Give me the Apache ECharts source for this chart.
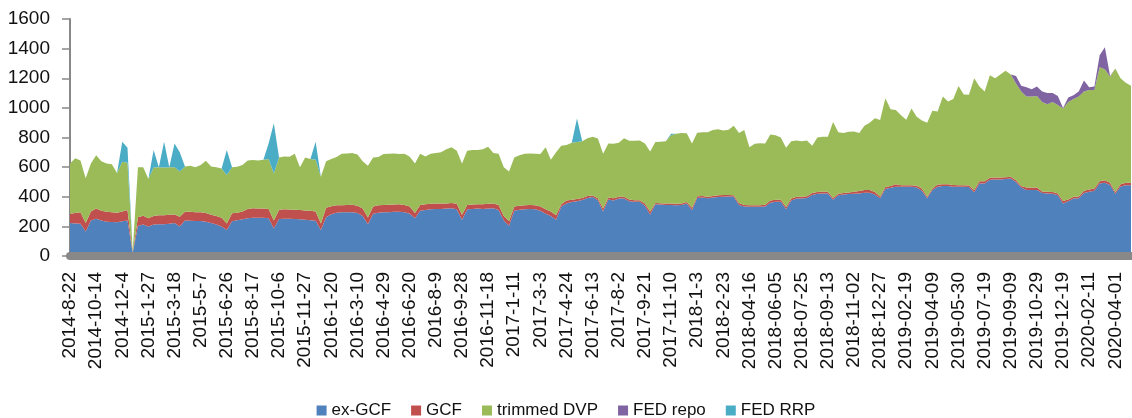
<!DOCTYPE html>
<html>
<head>
<meta charset="utf-8">
<script src="https://cdn.jsdelivr.net/npm/echarts@6.0.0/dist/echarts.min.js"></script>
<style>html,body{margin:0;padding:0;background:#fff}#c{width:1132px;height:418px}</style>
</head>
<body>
<div id="c"></div>
<script>
// Tick labels (one every 5 data points)
const tickLabels = ['2014-8-22','2014-10-14','2014-12-4','2015-1-27','2015-3-18','2015-5-7','2015-6-26','2015-8-17','2015-10-6','2015-11-27','2016-1-20','2016-3-10','2016-4-29','2016-6-20','2016-8-9','2016-9-28','2016-11-18','2017-1-11','2017-3-3','2017-4-24','2017-6-13','2017-8-2','2017-9-21','2017-11-10','2018-1-3','2018-2-23','2018-04-16','2018-06-05','2018-07-25','2018-09-13','2018-11-02','2018-12-27','2019-02-19','2019-04-09','2019-05-30','2019-07-19','2019-09-09','2019-10-29','2019-12-19','2020-02-11','2020-04-01'];
const pointsPerLabel = 5;

const seriesNames = ['ex-GCF','GCF','trimmed DVP','FED repo','FED RRP'];

const exGCF = [
223,220,218,165,240,252,240,232,230,228,
235,240,20,205,212,200,212,215,215,218,
222,200,240,238,237,236,232,222,212,200,
175,235,242,248,255,258,258,258,255,185,
250,252,252,250,248,245,242,238,175,262,
282,292,295,296,296,290,270,215,285,292,
295,296,298,298,295,285,255,305,310,315,
318,318,320,322,315,245,315,318,320,318,
320,322,310,240,205,305,312,315,318,315,
305,285,270,245,335,355,365,370,378,392,
398,377,300,381,375,388,388,370,366,366,
340,280,350,348,345,345,343,345,355,310,
392,395,390,395,398,400,402,400,345,335,
332,332,332,335,360,366,366,315,375,388,
388,392,412,420,422,422,380,410,415,418,
421,422,427,427,415,390,452,460,467,467,
467,467,462,440,390,445,468,472,472,467,
467,467,465,430,490,490,515,517,517,520,
524,500,462,445,445,445,425,422,420,410,
355,370,388,390,425,433,440,490,495,480,
420,470,478,478];

const gcf = [
63,70,77,57,60,68,65,66,65,64,
65,70,5,57,60,55,58,60,60,60,
58,65,58,60,59,60,58,56,58,58,
45,53,50,52,63,64,62,62,63,55,
62,63,62,62,62,63,63,62,45,63,
54,51,48,49,50,50,50,45,50,50,
50,50,50,52,50,50,35,40,40,37,
37,37,35,36,37,33,30,30,30,32,
32,33,35,30,30,30,28,27,27,27,
30,30,30,30,15,20,15,15,14,13,
10,13,20,14,15,12,12,12,11,11,
15,20,8,8,9,9,9,9,10,15,
12,10,10,10,12,12,10,10,13,10,
11,11,11,11,15,14,14,15,13,12,
12,11,13,12,13,11,12,10,10,10,
13,16,18,18,17,12,13,12,18,11,
11,11,12,15,10,11,14,13,13,13,
11,11,11,15,15,15,13,13,13,12,
11,12,10,18,18,18,10,11,12,12,
17,12,12,12,15,16,15,15,17,15,
12,15,16,16];

const trimmedDVP = [
339,370,350,303,325,360,335,327,325,268,
336,320,10,338,328,265,328,325,323,322,
320,305,307,312,304,319,353,327,330,332,
326,312,310,315,327,326,325,330,337,317,
353,357,356,378,290,357,350,350,315,315,
319,325,347,347,349,345,320,350,330,326,
343,344,344,338,345,335,335,345,322,338,
340,345,365,377,358,347,365,367,365,370,
386,340,345,330,335,330,340,348,347,348,
353,420,350,425,395,375,385,385,383,390,
397,404,370,365,368,365,395,396,401,403,
405,405,412,416,421,461,473,476,463,435,
428,430,435,445,445,436,440,470,472,505,
392,415,419,414,445,435,420,400,387,380,
375,377,320,368,370,372,513,415,405,410,
406,392,435,455,498,516,600,518,500,472,
442,517,466,460,500,524,493,591,558,580,
670,612,612,755,639,605,692,670,695,718,
690,653,638,613,613,617,605,592,608,598,
623,658,660,674,670,671,666,770,748,715,
833,715,676,656];

const fedRepo = [
0,0,0,0,0,0,0,0,0,0, 0,0,0,0,0,0,0,0,0,0,
0,0,0,0,0,0,0,0,0,0, 0,0,0,0,0,0,0,0,0,0,
0,0,0,0,0,0,0,0,0,0, 0,0,0,0,0,0,0,0,0,0,
0,0,0,0,0,0,0,0,0,0, 0,0,0,0,0,0,0,0,0,0,
0,0,0,0,0,0,0,0,0,0, 0,0,0,0,0,0,0,0,0,0,
0,0,0,0,0,0,0,0,0,0, 0,0,0,0,0,0,0,0,0,0,
0,0,0,0,0,0,0,0,0,0, 0,0,0,0,0,0,0,0,0,0,
0,0,0,0,0,0,0,0,0,0, 0,0,0,0,0,0,0,0,0,0,
0,0,0,0,0,0,0,0,0,0, 0,0,0,0,0,0,0,0,0,0,
0,50,40,64,49,65,70,75,60,60,
5,30,25,34,75,20,24,80,150,5,
0,0,0,0];

const fedRRP = [
0,0,0,0,0,0,0,0,0,0,
135,100,0,0,0,0,117,0,173,0,
160,130,0,0,0,0,0,0,0,0,
169,0,0,0,0,0,0,0,105,339,
0,0,0,0,0,0,0,121,0,0,
0,0,0,0,0,0,0,0,0,0, 0,0,0,0,0,0,0,0,0,0,
0,0,0,0,0,0,0,0,0,0, 0,0,0,0,0,0,0,0,0,0,
0,0,0,0,0,0,0,159,0,0,
0,0,0,0,0,0,0,0,0,0,
0,0,0,0,0,10,0,0,0,0,
0,0,0,0,0,0,0,0,0,0, 0,0,0,0,0,0,0,0,0,0,
0,0,0,0,0,0,0,0,0,0, 0,0,0,0,0,0,0,0,0,0,
0,0,0,0,0,0,0,0,0,0, 0,0,0,0,0,0,0,0,0,0,
0,0,0,0,0,0,0,0,0,0, 0,0,0,0,0,0,0,0,0,0,
0,0,0,0];

const seriesData = [exGCF, gcf, trimmedDVP, fedRepo, fedRRP];
const colors = ['#4F81BD','#C0504D','#9BBB59','#8064A2','#4BACC6'];
const categories = exGCF.map((_, i) => String(i));

const chart = echarts.init(document.getElementById('c'), null, {renderer: 'canvas'});
const FONT = '"Liberation Sans", Arial, sans-serif';
chart.setOption({
  animation: false,
  backgroundColor: '#fff',
  grid: {left: 70, right: 1, top: 19, bottom: 162, containLabel: false, outerBoundsMode: 'none'},
  legend: {
    data: seriesNames, left: 'center', top: 397, icon: 'rect',
    itemWidth: 10, itemHeight: 10, itemGap: 20,
    textStyle: {fontFamily: FONT, fontSize: 17, color: '#111'}
  },
  xAxis: {
    type: 'category', data: categories, boundaryGap: false, offset: 2, z: 10,
    axisLine: {show: true, lineStyle: {color: '#888', width: 8}},
    axisTick: {show: false},
    axisLabel: {
      interval: pointsPerLabel - 1, rotate: 90, margin: 14,
      fontFamily: FONT, fontSize: 19, color: '#111',
      formatter: (v, idx) => (idx % pointsPerLabel === 0 ? (tickLabels[idx / pointsPerLabel] || '') : '')
    },
    splitLine: {show: false}
  },
  yAxis: {
    type: 'value', min: 0, max: 1600, interval: 200,
    axisLine: {show: true, lineStyle: {color: '#888', width: 2}},
    axisTick: {show: true, length: 8, lineStyle: {color: '#888', width: 1.5}},
    axisLabel: {margin: 20, fontFamily: FONT, fontSize: 19, color: '#111', formatter: v => String(v)},
    splitLine: {show: false}
  },
  series: seriesNames.map((name, k) => ({
    name, type: 'line', stack: 'total', data: seriesData[k],
    symbol: 'none', showSymbol: false, smooth: false,
    lineStyle: {width: 0},
    itemStyle: {color: colors[k]},
    areaStyle: {color: colors[k], opacity: 1},
    emphasis: {disabled: true}
  }))
});
</script>
</body>
</html>
